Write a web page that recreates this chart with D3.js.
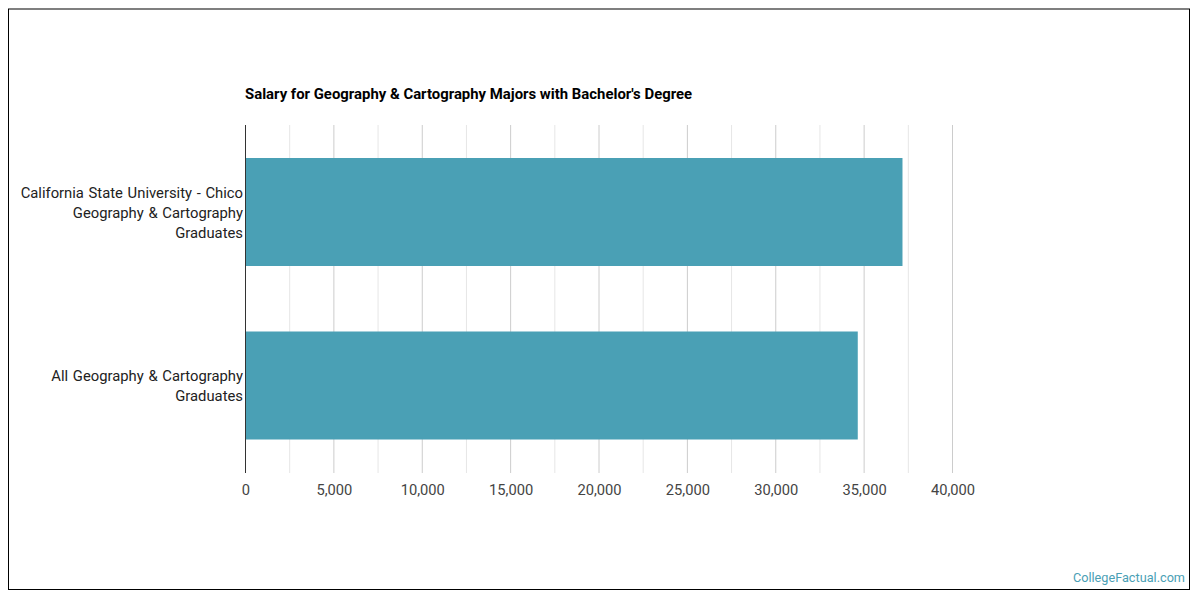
<!DOCTYPE html>
<html>
<head>
<meta charset="utf-8">
<script src="https://cdn.jsdelivr.net/npm/d3@7"></script>
<style>
html, body { margin: 0; padding: 0; background: #fff; }
svg { display: block; font-family: Roboto, sans-serif; }
</style>
</head>
<body>
<div id="chart"></div>
<script>
var categories = ["Chico", "All"];
var categoryLabels = [
  ["California State University - Chico", "Geography & Cartography", "Graduates"],
  ["All Geography & Cartography", "Graduates"]
];
var salaries = [37170, 34640];
var majorTicks = [0, 5000, 10000, 15000, 20000, 25000, 30000, 35000, 40000];
var minorTicks = [2500, 7500, 12500, 17500, 22500, 27500, 32500, 37500];
var title = "Salary for Geography & Cartography Majors with Bachelor's Degree";
var credit = "CollegeFactual.com";

var width = 1200, height = 600;
var margin = {top: 125, left: 245.5, bottom: 127, right: 247.5};

var svg = d3.select("#chart").append("svg")
    .attr("width", width)
    .attr("height", height);

// Outer frame
svg.append("rect")
    .attr("x", 8.5)
    .attr("y", 9)
    .attr("width", 1181)
    .attr("height", 580.5)
    .attr("fill", "#fff")
    .attr("stroke", "#000")
    .attr("stroke-width", 1);

// Scales
var x = d3.scaleLinear()
    .domain([0, 40000])
    .range([margin.left, width - margin.right]);

var y = d3.scaleBand()
    .domain(categories)
    .range([margin.top, height - margin.bottom])
    .paddingInner(66 / 174)
    .paddingOuter(33 / 174);

// Gridlines
svg.selectAll(".minor")
    .data(minorTicks)
    .enter().append("line")
    .attr("class", "minor")
    .attr("x1", d => x(d)).attr("x2", d => x(d))
    .attr("y1", margin.top).attr("y2", height - margin.bottom)
    .attr("stroke", "#e6e6e6");

svg.selectAll(".major")
    .data(majorTicks.slice(1))
    .enter().append("line")
    .attr("class", "major")
    .attr("x1", d => x(d)).attr("x2", d => x(d))
    .attr("y1", margin.top).attr("y2", height - margin.bottom)
    .attr("stroke", "#cccccc");

// Bars
svg.selectAll(".bar")
    .data(salaries)
    .enter().append("rect")
    .attr("class", "bar")
    .attr("x", x(0))
    .attr("y", (d, i) => y(categories[i]) - i * 0.5)
    .attr("width", d => x(d) - x(0))
    .attr("height", y.bandwidth())
    .attr("fill", "#4aa0b5");

// Baseline
svg.append("line")
    .attr("x1", x(0)).attr("x2", x(0))
    .attr("y1", margin.top).attr("y2", height - margin.bottom)
    .attr("stroke", "#333");

// Value axis labels
svg.selectAll(".tick-label")
    .data(majorTicks)
    .enter().append("text")
    .attr("class", "tick-label")
    .attr("x", d => x(d) + 0.5)
    .attr("y", 495)
    .attr("text-anchor", "middle")
    .attr("font-size", 14.7)
    .attr("fill", "#444")
    .text(d3.format(","));

// Category labels
categories.forEach(function(c, i) {
  var lines = categoryLabels[i];
  var mid = y(c) + y.bandwidth() / 2 - i;
  svg.selectAll(".cat" + i)
      .data(lines)
      .enter().append("text")
      .attr("class", "cat" + i)
      .attr("x", 243)
      .attr("y", (d, j) => mid + 5.5 + (j - (lines.length - 1) / 2) * 20)
      .attr("text-anchor", "end")
      .attr("font-size", 14.8)
      .attr("word-spacing", 1)
      .attr("fill", "#222")
      .text(d => d);
});

// Title
svg.append("text")
    .attr("x", 245)
    .attr("y", 99)
    .attr("font-size", 14.9)
    .attr("font-weight", "bold")
    .attr("fill", "#000")
    .text(title);

// Credit
svg.append("text")
    .attr("x", 1185)
    .attr("y", 582)
    .attr("text-anchor", "end")
    .attr("font-size", 12.7)
    .attr("fill", "#4aa0b5")
    .text(credit);
</script>
</body>
</html>
